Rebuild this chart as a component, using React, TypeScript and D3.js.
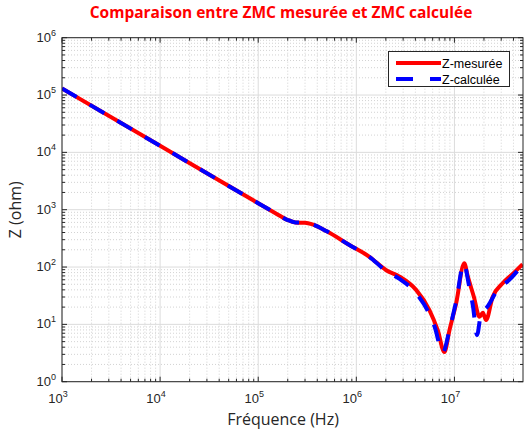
import React from 'react';
import * as d3 from 'd3';

// fréquences (Hz) et impédances
const freqMes = [1e3, 1e4, 1e5, 1.5e5, 2.0e5, 2.4e5, 3.0e5, 3.5e5, 5e5, 8.5e5, 1.36e6, 2.0e6, 2.76e6, 4.07e6, 5.56e6, 6.76e6, 7.9e6, 8.9e6, 1.04e7, 1.26e7, 1.37e7, 1.58e7, 1.8e7, 1.95e7, 2.1e7, 2.45e7, 3.1e7, 4.0e7, 4.95e7];
const zMes = [1.3e5, 1.3e4, 1300, 870, 660, 600, 590, 560, 420, 242, 151, 89, 68, 40, 17.8, 7.9, 3.3, 7.9, 23, 116, 68, 30, 13.6, 16, 11.9, 30, 52, 78, 112];

const freqCalc = [1e3, 1e4, 1e5, 1.5e5, 2.0e5, 2.4e5, 3.0e5, 3.5e5, 5e5, 8.5e5, 1.36e6, 2.0e6, 2.76e6, 4.07e6, 5.56e6, 6.3e6, 7.6e6, 8.9e6, 1.04e7, 1.25e7, 1.4e7, 1.55e7, 1.7e7, 1.85e7, 2.2e7, 2.75e7, 3.6e7, 4.95e7];
const zCalc = [1.3e5, 1.3e4, 1300, 870, 660, 600, 590, 560, 420, 242, 151, 86, 62, 35, 15, 9, 3.2, 8, 25, 115, 50, 20, 6.5, 14, 21, 40, 59, 110];

const xDecades = [3, 4, 5, 6, 7];
const yDecades = [0, 1, 2, 3, 4, 5, 6];

const legendNames = ['Z-mesurée', 'Z-calculée'];

const App: React.FC = () => {
    const width = 525;
    const height = 439;
    const left = 62;
    const top = 37.7;
    const right = 523;
    const bottom = 381.7;

    const x = d3.scaleLog().domain([1e3, 5e7]).range([left, right]);
    const y = d3.scaleLog().domain([1, 1e6]).range([bottom, top]);

    const line = d3.line<[number, number]>()
        .x(d => x(d[0]))
        .y(d => y(d[1]))
        .curve(d3.curveMonotoneX);

    const mes = freqMes.map((f, i) => [f, zMes[i]] as [number, number]);
    const calc = freqCalc.map((f, i) => [f, zCalc[i]] as [number, number]);

    // minor ticks
    const xMinor: number[] = [];
    for (let e = 3; e <= 7; e++) {
        for (let k = 2; k <= 9; k++) {
            const v = k * Math.pow(10, e);
            if (v < 5e7) xMinor.push(v);
        }
    }
    const yMinor: number[] = [];
    for (let e = 0; e < 6; e++) {
        for (let k = 2; k <= 9; k++) yMinor.push(k * Math.pow(10, e));
    }

    const tickFont = 'Liberation Sans, Arial, sans-serif';

    return (
        <svg width={width} height={height} style={{ display: 'block', position: 'absolute', left: 0, top: 0 }}>
            <rect x={0} y={0} width={width} height={height} fill="#fff" />
            <rect x={left} y={top} width={right - left} height={bottom - top} fill="#fff" />

            {/* minor grid */}
            <g stroke="#c8c8c8" strokeWidth={0.8} strokeDasharray="1 2">
                {xMinor.map((v, i) => (
                    <line key={'xm' + i} x1={x(v)} x2={x(v)} y1={top} y2={bottom} />
                ))}
                {yMinor.map((v, i) => (
                    <line key={'ym' + i} x1={left} x2={right} y1={y(v)} y2={y(v)} />
                ))}
            </g>
            {/* major grid */}
            <g stroke="#dcdcdc" strokeWidth={1}>
                {xDecades.map(e => (
                    <line key={'xg' + e} x1={x(Math.pow(10, e))} x2={x(Math.pow(10, e))} y1={top} y2={bottom} />
                ))}
                {yDecades.map(e => (
                    <line key={'yg' + e} x1={left} x2={right} y1={y(Math.pow(10, e))} y2={y(Math.pow(10, e))} />
                ))}
            </g>

            {/* ticks inside, all four sides */}
            <g stroke="#262626" strokeWidth={1}>
                {xDecades.map(e => {
                    const px = x(Math.pow(10, e));
                    return (
                        <g key={'xt' + e}>
                            <line x1={px} x2={px} y1={bottom} y2={bottom - 5} />
                            <line x1={px} x2={px} y1={top} y2={top + 5} />
                        </g>
                    );
                })}
                {xMinor.map((v, i) => (
                    <g key={'xmt' + i}>
                        <line x1={x(v)} x2={x(v)} y1={bottom} y2={bottom - 3} />
                        <line x1={x(v)} x2={x(v)} y1={top} y2={top + 3} />
                    </g>
                ))}
                {yDecades.map(e => {
                    const py = y(Math.pow(10, e));
                    return (
                        <g key={'yt' + e}>
                            <line x1={left} x2={left + 5} y1={py} y2={py} />
                            <line x1={right} x2={right - 5} y1={py} y2={py} />
                        </g>
                    );
                })}
                {yMinor.map((v, i) => (
                    <g key={'ymt' + i}>
                        <line x1={left} x2={left + 3} y1={y(v)} y2={y(v)} />
                        <line x1={right} x2={right - 3} y1={y(v)} y2={y(v)} />
                    </g>
                ))}
            </g>

            {/* curves */}
            <g clipPath="url(#plotClip)">
                <path d={line(mes) || undefined} fill="none" stroke="#ff0000" strokeWidth={4} strokeLinejoin="round" />
                <path d={line(calc) || undefined} fill="none" stroke="#0000ff" strokeWidth={4} strokeDasharray="17 15" />
            </g>
            <defs>
                <clipPath id="plotClip">
                    <rect x={left} y={top} width={right - left} height={bottom - top} />
                </clipPath>
            </defs>

            <rect x={left} y={top} width={right - left} height={bottom - top} fill="none" stroke="#262626" strokeWidth={1} />

            {/* tick labels */}
            <g fontFamily={tickFont} fontSize={13} fill="#262626">
                {xDecades.map(e => (
                    <text key={'xl' + e} x={x(Math.pow(10, e)) - 4} y={403} textAnchor="middle">
                        10<tspan fontSize={9} dy={-6}>{e}</tspan>
                    </text>
                ))}
                {yDecades.map(e => (
                    <text key={'yl' + e} x={56} y={y(Math.pow(10, e)) + 4} textAnchor="end">
                        10<tspan fontSize={9} dy={-6}>{e}</tspan>
                    </text>
                ))}
            </g>

            {/* axis titles */}
            <text x={283} y={425} textAnchor="middle" fontFamily="Open Sans, sans-serif" fontSize={16} fill="#262626">
                Fréquence (Hz)
            </text>
            <text transform={`translate(21,${(top + bottom) / 2}) rotate(-90)`} textAnchor="middle"
                fontFamily="Open Sans, sans-serif" fontSize={16} fill="#262626">
                Z (ohm)
            </text>
            <text x={281} y={18} textAnchor="middle" fontFamily="Open Sans, sans-serif" fontWeight="bold" fontSize={15.5} fill="#ff0000">
                Comparaison entre ZMC mesurée et ZMC calculée
            </text>

            {/* legend */}
            <g>
                <rect x={388.5} y={51.5} width={121} height={35} fill="#fff" stroke="#262626" strokeWidth={1} />
                <line x1={396} x2={441} y1={63} y2={63} stroke="#ff0000" strokeWidth={4} />
                <line x1={396} x2={441} y1={79} y2={79} stroke="#0000ff" strokeWidth={4} strokeDasharray="17 17" />
                <g fontFamily={tickFont} fontSize={12.5} fill="#000">
                    <text x={442} y={67.5}>{legendNames[0]}</text>
                    <text x={442} y={83.5}>{legendNames[1]}</text>
                </g>
            </g>
        </svg>
    );
};

export default App;
